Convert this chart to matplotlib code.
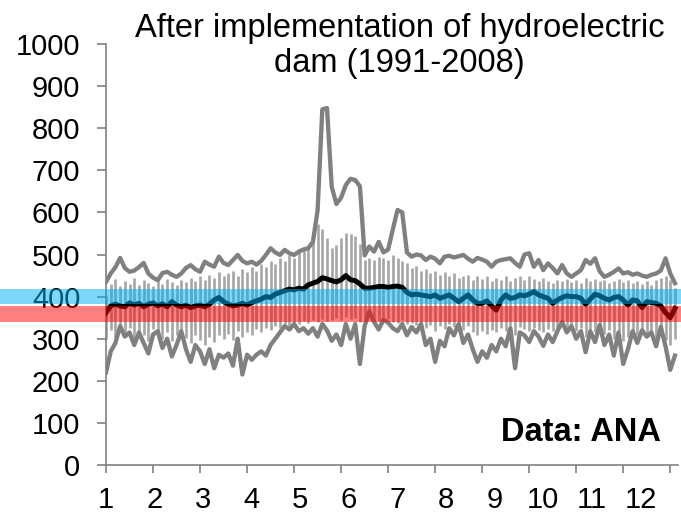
import matplotlib
matplotlib.use("Agg")
import matplotlib.pyplot as plt
import numpy as np
from matplotlib.patches import Rectangle
from matplotlib.transforms import blended_transform_factory

plt.rcParams['font.family'] = ['Liberation Sans', 'DejaVu Sans']

# daily flow statistics sampled every 3 days (day of year 0..363)
flow_max = [435, 455, 470, 492, 468, 459, 462, 470, 480, 455, 445, 439, 456, 459, 452, 447,
            455, 468, 475, 465, 459, 483, 476, 471, 495, 480, 475, 487, 499, 485, 479, 483,
            476, 485, 499, 515, 505, 499, 511, 503, 499, 507, 512, 515, 530, 605, 845, 848,
            661, 620, 635, 665, 680, 677, 662, 498, 519, 507, 530, 505, 512, 560, 606, 600,
            505, 495, 500, 498, 487, 495, 490, 479, 495, 497, 493, 496, 499, 490, 483, 492,
            488, 483, 471, 483, 487, 489, 491, 480, 471, 500, 503, 471, 487, 463, 479, 468,
            455, 475, 455, 447, 455, 463, 487, 478, 491, 460, 447, 452, 459, 467, 455, 458,
            452, 455, 450, 447, 452, 455, 462, 491, 455, 432]

flow_min = [220, 270, 290, 330, 305, 315, 285, 315, 290, 265, 310, 318, 278, 300, 258, 285,
            318, 275, 245, 285, 270, 240, 275, 230, 262, 255, 265, 236, 300, 215, 262, 250,
            262, 270, 260, 285, 300, 315, 330, 322, 335, 318, 325, 312, 325, 305, 335, 320,
            295, 310, 285, 335, 300, 335, 240, 330, 365, 340, 322, 345, 338, 325, 318, 335,
            308, 328, 315, 335, 285, 300, 245, 295, 282, 325, 308, 335, 290, 310, 275, 245,
            270, 255, 285, 270, 300, 282, 325, 230, 315, 308, 292, 318, 305, 283, 310, 292,
            318, 340, 315, 330, 300, 318, 268, 318, 292, 333, 285, 310, 260, 315, 240, 275,
            318, 290, 320, 305, 315, 282, 328, 282, 226, 260]

flow_mean = [362, 378, 382, 378, 376, 385, 380, 384, 376, 382, 385, 378, 383, 376, 388, 380,
             376, 380, 374, 378, 380, 376, 382, 392, 398, 388, 382, 378, 380, 384, 380, 386,
             390, 394, 400, 398, 406, 410, 414, 418, 416, 420, 418, 428, 432, 436, 445, 442,
             438, 435, 440, 450, 440, 438, 430, 420, 420, 422, 424, 424, 422, 424, 425, 422,
             410, 404, 406, 404, 402, 400, 404, 396, 400, 404, 396, 388, 396, 404, 392, 384,
             384, 390, 378, 368, 392, 404, 396, 398, 404, 402, 406, 412, 404, 400, 396, 384,
             392, 398, 402, 400, 400, 396, 382, 394, 406, 402, 396, 392, 398, 400, 392, 380,
             392, 390, 374, 388, 386, 384, 378, 362, 350, 372]

bar_top = [405, 430, 442, 425, 438, 430, 445, 428, 440, 432, 425, 438, 430, 442, 435, 428,
           440, 435, 445, 438, 448, 440, 452, 445, 458, 448, 455, 462, 450, 465, 458, 470,
           462, 478, 470, 485, 478, 492, 485, 500, 492, 505, 512, 520, 545, 572, 560, 540,
           515, 522, 540, 552, 548, 545, 525, 488, 492, 488, 495, 492, 488, 498, 492, 485,
           480, 468, 472, 460, 465, 455, 462, 452, 458, 448, 455, 445, 450, 452, 440, 448,
           442, 450, 438, 445, 440, 448, 438, 445, 450, 440, 448, 442, 436, 445, 438, 432,
           440, 436, 442, 435, 440, 432, 445, 438, 442, 436, 440, 432, 438, 442, 435, 440,
           432, 438, 430, 436, 428, 440, 445, 450, 440, 420]

bar_bottom = [300, 320, 305, 330, 312, 325, 300, 318, 308, 295, 322, 310, 300, 315, 295, 308,
              320, 302, 290, 310, 298, 285, 305, 292, 310, 300, 312, 298, 318, 305, 315, 308,
              322, 315, 325, 320, 330, 325, 335, 330, 338, 335, 342, 338, 345, 340, 348, 342,
              345, 350, 345, 352, 346, 350, 340, 348, 352, 345, 342, 350, 346, 340, 338, 345,
              335, 338, 332, 336, 325, 332, 318, 330, 322, 335, 328, 334, 320, 330, 315, 310,
              318, 312, 320, 315, 325, 318, 330, 310, 328, 322, 318, 325, 320, 315, 322, 318,
              326, 332, 324, 330, 318, 325, 305, 322, 315, 328, 312, 320, 300, 318, 295, 305,
              318, 308, 320, 312, 318, 305, 322, 298, 285, 300]

month_labels = [str(m) for m in range(1, 13)]
band_blue = (382, 418)
band_red = (340, 378)

days = np.arange(0, 364, 3)

fig = plt.figure(figsize=(6.81, 5.14), dpi=100)
ax = fig.add_axes([0.1557, 0.0953, 0.840, 0.819])

ax.vlines(days, bar_bottom, bar_top, color='#a6a6a6', lw=1.9, zorder=1)
ax.plot(days, flow_max, color='#808080', lw=3.1, zorder=2, solid_joinstyle='round')
ax.plot(days, flow_min, color='#808080', lw=3.1, zorder=2, solid_joinstyle='round')
ax.plot(days, flow_mean, color='black', lw=3.6, zorder=3, solid_joinstyle='round')

# reference bands drawn across the whole figure width
trans = blended_transform_factory(fig.transFigure, ax.transData)
ax.add_patch(Rectangle((0, band_blue[0]), 1, band_blue[1] - band_blue[0], transform=trans,
                       facecolor=(0, 176 / 255, 240 / 255), alpha=0.5, lw=0,
                       clip_on=False, zorder=10))
ax.add_patch(Rectangle((0, band_red[0]), 1, band_red[1] - band_red[0], transform=trans,
                       facecolor=(1, 0, 0), alpha=0.5, lw=0, clip_on=False, zorder=10))

ax.set_xlim(0, 365)
ax.set_ylim(0, 1000)
ax.set_yticks(np.arange(0, 1001, 100))
ax.xaxis.remove_overlapping_locs = False
ax.set_xticks(np.arange(0, 361, 30))
ax.set_xticklabels([])
ax.set_xticks(np.arange(0, 12) * 31, minor=True)
ax.set_xticklabels(month_labels, minor=True)

for s in ['top', 'right']:
    ax.spines[s].set_visible(False)
for s in ['left', 'bottom']:
    ax.spines[s].set_color('#808080')
    ax.spines[s].set_linewidth(1.2)

ax.tick_params(axis='y', which='major', length=6.5, width=1.2, color='#808080',
               labelsize=21, pad=12)
ax.tick_params(axis='x', which='major', length=6, width=1.2, color='#808080')
ax.tick_params(axis='x', which='minor', length=0, labelsize=21, pad=15)

fig.text(0.587, 0.975, 'After implementation of hydroelectric\ndam (1991-2008)',
         ha='center', va='top', fontsize=23.5, linespacing=1.17)
ax.text(0.97, 0.078, 'Data: ANA', transform=ax.transAxes, ha='right', va='center',
        fontsize=23.5, fontweight='bold')

fig.savefig('out.png', dpi=100)
